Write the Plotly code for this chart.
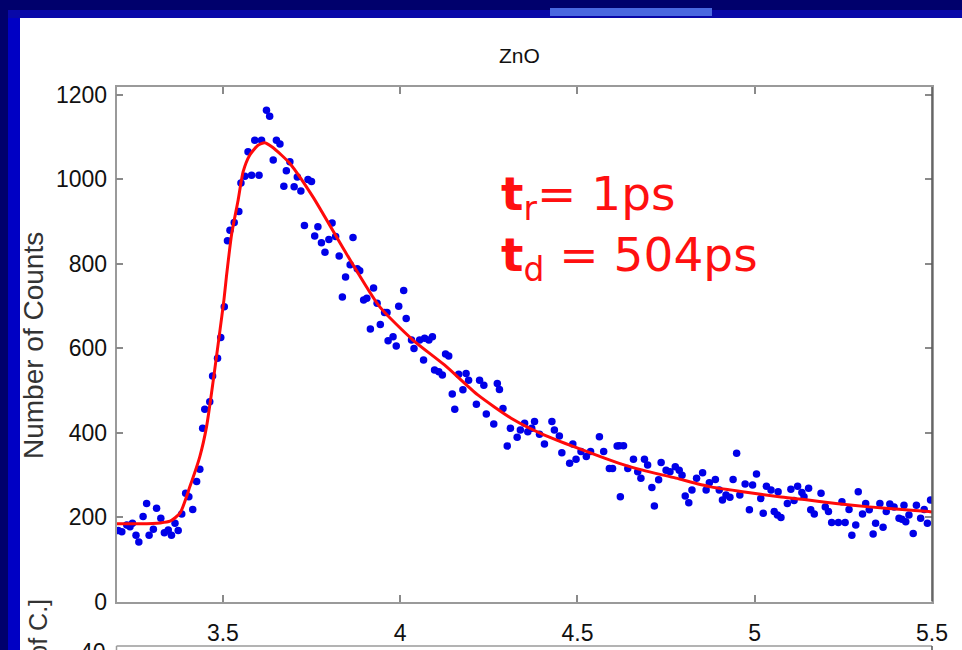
import plotly.graph_objects as go

# ---------------- data ----------------
time_ns = [
    3.205, 3.215, 3.229, 3.238, 3.245, 3.255, 3.263, 3.275, 3.285, 3.292,
    3.304, 3.313, 3.325, 3.335, 3.346, 3.355, 3.365, 3.374, 3.384, 3.395,
    3.404, 3.415, 3.426, 3.435, 3.443, 3.449, 3.463, 3.471, 3.485, 3.494,
    3.504, 3.513, 3.520, 3.532, 3.545, 3.551, 3.562, 3.571, 3.581, 3.590,
    3.602, 3.609, 3.623, 3.632, 3.642, 3.651, 3.661, 3.672, 3.679, 3.689,
    3.701, 3.710, 3.720, 3.730, 3.740, 3.750, 3.759, 3.768, 3.778, 3.788,
    3.799, 3.808, 3.818, 3.828, 3.837, 3.846, 3.859, 3.867, 3.879, 3.886,
    3.897, 3.906, 3.916, 3.925, 3.935, 3.944, 3.956, 3.963, 3.966, 3.980,
    3.989, 3.996, 4.010, 4.017, 4.032, 4.039, 4.055, 4.066, 4.069, 4.081,
    4.091, 4.097, 4.109, 4.119, 4.128, 4.137, 4.147, 4.154, 4.165, 4.177,
    4.186, 4.193, 4.215, 4.224, 4.236, 4.243, 4.264, 4.274, 4.280, 4.290,
    4.302, 4.311, 4.330, 4.339, 4.351, 4.360, 4.371, 4.379, 4.393, 4.407,
    4.428, 4.435, 4.449, 4.456, 4.478, 4.487, 4.496, 4.510, 4.525, 4.537,
    4.562, 4.574, 4.590, 4.599, 4.612, 4.618, 4.621, 4.630, 4.642, 4.658,
    4.670, 4.679, 4.689, 4.698, 4.710, 4.717, 4.729, 4.736, 4.750, 4.761,
    4.776, 4.787, 4.795, 4.804, 4.814, 4.823, 4.836, 4.853, 4.863, 4.872,
    4.889, 4.900, 4.909, 4.919, 4.930, 4.939, 4.949, 4.958, 4.973, 4.985,
    4.994, 5.005, 5.017, 5.024, 5.033, 5.046, 5.055, 5.064, 5.066, 5.074,
    5.092, 5.102, 5.111, 5.121, 5.133, 5.139, 5.152, 5.158, 5.168, 5.187,
    5.199, 5.208, 5.217, 5.236, 5.246, 5.255, 5.266, 5.274, 5.285, 5.292,
    5.304, 5.313, 5.323, 5.334, 5.341, 5.353, 5.362, 5.371, 5.381, 5.393,
    5.407, 5.415, 5.421, 5.426, 5.435, 5.447, 5.456, 5.468, 5.478, 5.487,
    5.496,
]
counts = [
    168, 165, 181, 177, 185, 157, 141, 201, 232, 157,
    171, 221, 197, 163, 169, 157, 185, 168, 207, 256,
    248, 218, 284, 313, 410, 455, 473, 534, 576, 625,
    698, 854, 879, 897, 923, 991, 1007, 1065, 1009, 1092,
    1009, 1092, 1163, 1149, 1045, 1092, 1083, 983, 1020, 1041,
    982, 1005, 972, 890, 999, 994, 865, 887, 849, 827,
    857, 896, 864, 818, 721, 768, 797, 862, 788, 783,
    714, 718, 645, 742, 706, 656, 684, 684, 617, 627,
    605, 699, 736, 670, 619, 599, 619, 572, 623, 619,
    627, 548, 544, 536, 586, 581, 491, 455, 538, 501,
    540, 524, 467, 524, 512, 444, 420, 516, 502, 457,
    368, 410, 389, 406, 422, 402, 410, 426, 396, 373,
    426, 406, 392, 352, 327, 373, 337, 355, 343, 355,
    390, 355, 315, 315, 368, 369, 248, 369, 315, 337,
    307, 292, 337, 323, 270, 226, 288, 329, 311, 307,
    319, 311, 299, 250, 234, 264, 292, 305, 264, 281,
    289, 264, 240, 252, 247, 289, 351, 252, 278, 217,
    276, 302, 244, 209, 273, 264, 213, 205, 260, 199,
    232, 266, 239, 273, 258, 248, 268, 217, 207, 256,
    224, 213, 187, 187, 236, 187, 218, 157, 181, 260,
    207, 232, 217, 160, 185, 232, 176, 213, 231, 224,
    197, 195, 228, 189, 205, 161, 228, 197, 218, 185,
    240,
]

fit_time_ns = [
    3.201, 3.266, 3.323, 3.351, 3.379, 3.407, 3.435, 3.454, 3.473, 3.492,
    3.503, 3.510, 3.525, 3.543, 3.557, 3.576, 3.599, 3.618, 3.637, 3.665,
    3.689, 3.754, 3.848, 3.942, 4.036, 4.125, 4.219, 4.313, 4.407, 4.501,
    4.618, 4.684, 4.778, 4.872, 4.966, 5.069, 5.135, 5.229, 5.323, 5.416,
    5.491, 5.500,
]
fit_counts = [
    184, 184, 186, 190, 209, 272, 343, 414, 524, 643,
    714, 769, 871, 950, 1017, 1057, 1080, 1086, 1077, 1057,
    1037, 958, 824, 698, 619, 560, 489, 434, 394, 363,
    327, 311, 292, 272, 260, 248, 242, 232, 224, 218,
    213, 212,
]

x_ticks = [3.5, 4, 4.5, 5, 5.5]
x_tick_labels = ["3.5", "4", "4.5", "5", "5.5"]
y_ticks = [0, 200, 400, 600, 800, 1000, 1200]
y_tick_labels = ["0", "200", "400", "600", "800", "1000", "1200"]
lower_top_label = "40"

title_text = "ZnO"
y_title = "Number of Counts"
rise_label = "<b>t</b><sub>r</sub>= 1ps"
decay_label = "<b>t</b><sub>d</sub> = 504ps"
lower_y_title = "[No. of C.]"

# ---------------- layout helpers ----------------
W, H = 962, 650
FONT = "Liberation Sans, Arial, sans-serif"
BIG = "DejaVu Sans, Verdana, sans-serif"


def px_x(p):
    return p / W


def px_y(p):
    return (H - p) / H


fig = go.Figure()

fig.add_trace(go.Scatter(
    x=time_ns, y=counts, mode="markers",
    marker=dict(color="#0000e8", size=7.5, line=dict(width=0)),
    showlegend=False, hoverinfo="x+y",
))
fig.add_trace(go.Scatter(
    x=fit_time_ns, y=fit_counts, mode="lines",
    line=dict(color="#ff0a0a", width=3, shape="spline", smoothing=0.6),
    showlegend=False, hoverinfo="x+y",
))

shapes = [
    # blue slide frame
    dict(type="rect", xref="paper", yref="paper", x0=px_x(8), x1=px_x(20), y0=0, y1=px_y(10),
         fillcolor="#0000c4", line=dict(width=0), layer="below"),
    dict(type="rect", xref="paper", yref="paper", x0=px_x(8), x1=1, y0=px_y(18), y1=px_y(10),
         fillcolor="#0808a8", line=dict(width=0), layer="below"),
    dict(type="rect", xref="paper", yref="paper", x0=px_x(550), x1=px_x(712), y0=px_y(16), y1=px_y(8),
         fillcolor="#4a68e0", line=dict(width=0), layer="below"),
    # white panel
    dict(type="rect", xref="paper", yref="paper", x0=px_x(20), x1=1, y0=0, y1=px_y(18),
         fillcolor="white", line=dict(width=0), layer="below"),
    # darker right border of the axes box
    dict(type="line", xref="paper", yref="paper", x0=px_x(932), x1=px_x(932),
         y0=px_y(601.5), y1=px_y(87), line=dict(color="#555555", width=1.5)),
    # top border of the lower (cut-off) panel
    dict(type="line", xref="paper", yref="paper", x0=px_x(116.5), x1=px_x(932),
         y0=px_y(646), y1=px_y(646), line=dict(color="#9a9a9a", width=1.5)),
    dict(type="line", xref="paper", yref="paper", x0=px_x(116.5), x1=px_x(116.5),
         y0=0, y1=px_y(646), line=dict(color="#9a9a9a", width=1.5)),
    dict(type="line", xref="paper", yref="paper", x0=px_x(932), x1=px_x(932),
         y0=0, y1=px_y(646), line=dict(color="#555555", width=1.5)),
]

annotations = [
    dict(text=title_text, x=px_x(519), y=px_y(55), xref="paper", yref="paper",
         xanchor="center", yanchor="middle",
         showarrow=False, font=dict(family=FONT, size=21, color="#111111")),
    dict(text=y_title, x=px_x(33), y=px_y(346), xref="paper", yref="paper", textangle=-90,
         xanchor="center", yanchor="middle",
         showarrow=False, font=dict(family=FONT, size=28, color="#333333")),
    dict(text=rise_label, x=px_x(499), y=px_y(197), xref="paper", yref="paper",
         xanchor="left", yanchor="middle", showarrow=False,
         font=dict(family=BIG, size=47, color="#ff1010")),
    dict(text=decay_label, x=px_x(499), y=px_y(258), xref="paper", yref="paper",
         xanchor="left", yanchor="middle", showarrow=False,
         font=dict(family=BIG, size=47, color="#ff1010")),
    dict(text=lower_y_title, x=px_x(37), y=px_y(597), xref="paper", yref="paper", textangle=-90,
         xanchor="center", yanchor="top", showarrow=False,
         font=dict(family=FONT, size=25, color="#333333")),
    dict(text=lower_top_label, x=px_x(108), y=px_y(637), xref="paper", yref="paper",
         xanchor="right", yanchor="top", showarrow=False,
         font=dict(family=FONT, size=23, color="#111111")),
]

axis_common = dict(
    showgrid=False, zeroline=False, showline=True, linecolor="#9a9a9a", linewidth=1.5,
    ticks="inside", ticklen=7, tickcolor="#8a8a8a", tickwidth=1.5, mirror="ticks",
    tickfont=dict(family=FONT, size=23, color="#111111"), automargin=False,
)

fig.update_layout(
    width=W, height=H,
    margin=dict(l=0, r=0, t=0, b=0),
    paper_bgcolor="#00006c", plot_bgcolor="white",
    shapes=shapes, annotations=annotations,
    xaxis=dict(domain=[px_x(116.5), px_x(932)], range=[3.2, 5.5],
               tickvals=x_ticks, ticktext=x_tick_labels, ticklabelstandoff=10,
               anchor="y", **axis_common),
    yaxis=dict(domain=[px_y(601.5), px_y(87)], range=[0, 1218],
               tickvals=y_ticks, ticktext=y_tick_labels, ticklabelstandoff=3,
               anchor="x", **axis_common),
)

fig.write_html(
    "out.html",
    config={"displayModeBar": False},
    post_script="document.body.style.margin='0px';document.body.style.overflow='hidden';",
)
